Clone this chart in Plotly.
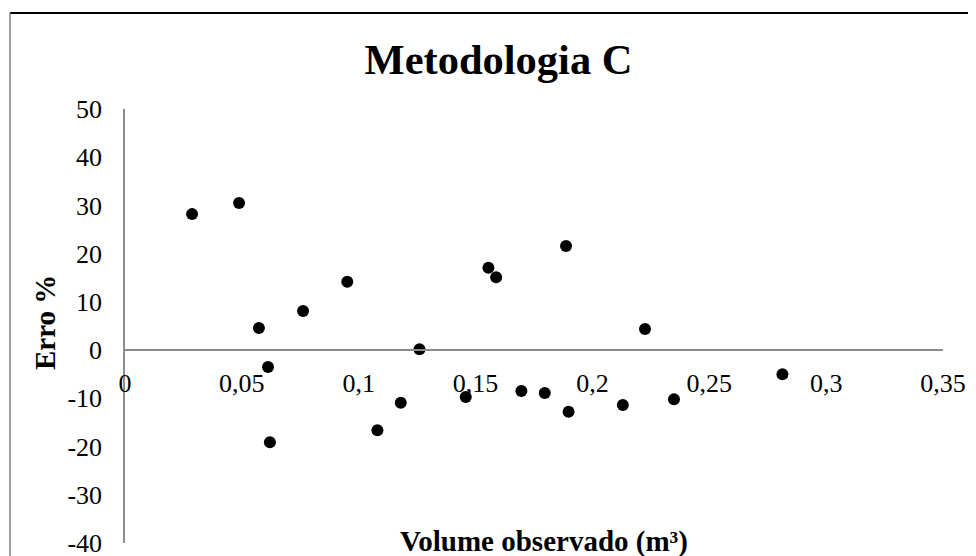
import plotly.graph_objects as go

volume = [0.0287, 0.0488, 0.0573, 0.0612, 0.0620, 0.0762, 0.0951, 0.1080, 0.1180,
          0.1260, 0.1458, 0.1555, 0.1588, 0.1696, 0.1796, 0.1887, 0.1898, 0.2130,
          0.2225, 0.2349, 0.2813]
erro = [28.2, 30.5, 4.6, -3.5, -19.1, 8.1, 14.2, -16.6, -10.9, 0.2, -9.7, 17.1,
        15.1, -8.5, -8.9, 21.6, -12.8, -11.4, 4.4, -10.2, -5.0]

x_ticks = [0, 0.05, 0.1, 0.15, 0.2, 0.25, 0.3, 0.35]
x_ticktext = ["0", "0,05", "0,1", "0,15", "0,2", "0,25", "0,3", "0,35"]
y_ticks = [-40, -30, -20, -10, 0, 10, 20, 30, 40, 50]
y_ticktext = [str(v) for v in y_ticks]

x_range = [0, 0.35]
y_range = [-40, 50]

FONT = "Liberation Serif, Times New Roman, serif"
AXIS_COLOR = "#8c8c8c"

fig = go.Figure()
fig.add_trace(go.Scatter(
    x=volume, y=erro, mode="markers",
    marker=dict(color="black", size=12, line=dict(width=0)),
    showlegend=False, hoverinfo="x+y",
))

# page body has an 8px default margin; the figure is sized to fit the window
OFF = 8
WIN_W, WIN_H = 976, 556
W, H = WIN_W - OFF, WIN_H - OFF
# plot area in window pixels: x 125..943, y 109..543
L = 125 - OFF
T = 109 - OFF
R = WIN_W - 943
B = WIN_H - 543
pw, ph = W - L - R, H - T - B

def px_x(p):
    return (p - OFF - L) / pw

def px_y(p):
    return (H - B - (p - OFF)) / ph

fig.update_layout(
    width=W, height=H,
    margin=dict(l=L, r=R, t=T, b=B, autoexpand=False),
    paper_bgcolor="white", plot_bgcolor="white",
    font=dict(family=FONT, color="black", size=26),
    title=dict(text="<b>Metodologia C</b>", font=dict(size=42.5, family=FONT, color="black"),
               x=(498.5 - OFF) / W, xanchor="center", xref="container",
               y=1 - (59 - OFF) / H, yanchor="middle", yref="container"),
    xaxis=dict(range=x_range, tickvals=x_ticks, ticktext=x_ticktext,
               showgrid=False, zeroline=False, showline=True, linecolor=AXIS_COLOR, linewidth=1.5,
               ticks="outside", ticklen=10, tickcolor="rgba(0,0,0,0)",
               anchor="free", position=(0 - y_range[0]) / (y_range[1] - y_range[0]),
               ticklabeloverflow="allow",
               tickfont=dict(size=26, family=FONT, color="black")),
    yaxis=dict(range=y_range, tickvals=y_ticks, ticktext=y_ticktext,
               showgrid=False, zeroline=False, showline=True, linecolor=AXIS_COLOR, linewidth=1.5,
               ticks="outside", ticklen=16, tickcolor="rgba(0,0,0,0)",
               ticklabeloverflow="allow",
               tickfont=dict(size=26, family=FONT, color="black")),
    annotations=[
        dict(text="<b>Volume observado (m³)</b>", xref="paper", yref="paper",
             x=px_x(544), y=px_y(541), xanchor="center", yanchor="middle",
             showarrow=False, font=dict(size=29, family=FONT, color="black")),
        dict(text="<b>Erro %</b>", xref="paper", yref="paper",
             x=px_x(45), y=px_y(323), xanchor="center", yanchor="middle", textangle=-90,
             showarrow=False, font=dict(size=29, family=FONT, color="black")),
    ],
    shapes=[
        dict(type="line", xref="paper", yref="paper",
             x0=px_x(10), x1=px_x(WIN_W), y0=px_y(13), y1=px_y(13),
             line=dict(color="black", width=2)),
        dict(type="line", xref="paper", yref="paper",
             x0=px_x(10), x1=px_x(10), y0=px_y(13), y1=px_y(WIN_H),
             line=dict(color="#7f7f7f", width=1.5)),
    ],
)

fig.write_html("out.html")
